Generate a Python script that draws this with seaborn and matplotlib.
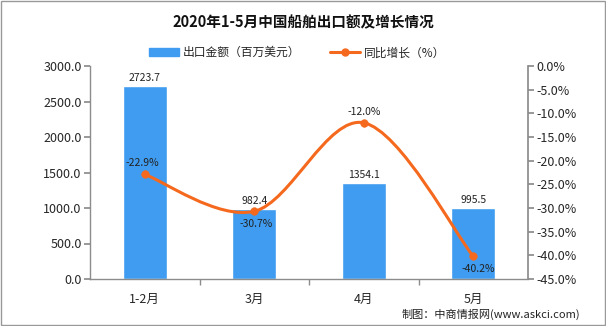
import matplotlib
matplotlib.use("Agg")
import matplotlib.pyplot as plt
import seaborn as sns
import numpy as np
import pandas as pd
from matplotlib.path import Path
from matplotlib.patches import PathPatch, Patch, Rectangle
from matplotlib.lines import Line2D

categories = ["1-2月", "3月", "4月", "5月"]
export_values = [2723.7, 982.4, 1354.1, 995.5]
growth_values = [-22.9, -30.7, -12.0, -40.2]
left_ticks = [0, 500, 1000, 1500, 2000, 2500, 3000]
right_ticks = [0, -5, -10, -15, -20, -25, -30, -35, -40, -45]

sns.set_theme(style="white")
plt.rcParams['font.family'] = ['Noto Sans CJK SC', 'DejaVu Sans']

BLUE = "#3F9CF0"
ORANGE = "#F5691E"
GRAY = "#8C8C8C"

fig = plt.figure(figsize=(6.06, 3.26), dpi=100)
ax = fig.add_axes([90/606, 47/326, 438/606, 213/326])

df = pd.DataFrame({"cat": categories, "val": export_values})
sns.barplot(data=df, x="cat", y="val", color=BLUE, width=0.4, ax=ax, saturation=1)
ax.set_ylim(0, 3000)
ax.set_xlim(-0.5, 3.5)
ax.set_yticks(left_ticks)
ax.set_yticklabels([f"{t:.1f}" for t in left_ticks], fontsize=9)
ax.set_xlabel("")
ax.set_ylabel("")
ax.set_xticks(range(4))
ax.set_xticklabels(categories, fontsize=9)
ax.tick_params(axis='x', length=0, pad=10)
ax.tick_params(axis='y', length=4, color=GRAY, direction='out', pad=2, left=True)
ax.set_xticks([0.5, 1.5, 2.5], minor=True)
ax.tick_params(axis='x', which='minor', length=4, color=GRAY, direction='out', bottom=True)
for s in ["top", "right"]:
    ax.spines[s].set_visible(False)
for s in ["left", "bottom"]:
    ax.spines[s].set_color(GRAY)
    ax.spines[s].set_linewidth(1)

for i, v in enumerate(export_values):
    ax.text(i, v + 40, f"{v:.1f}", ha="center", va="bottom", fontsize=7.5, color="#222222")

ax2 = ax.twinx()
ax2.set_ylim(-45, 0)
ax2.set_yticks(right_ticks)
ax2.set_yticklabels([f"{t:.1f}%" for t in right_ticks], fontsize=9)
ax2.tick_params(axis='y', length=4, color=GRAY, direction='out', pad=2, right=True)
for s in ["top", "left", "bottom"]:
    ax2.spines[s].set_visible(False)
ax2.spines["right"].set_color(GRAY)

# smooth curve (Catmull-Rom as cubic Bezier in data coords)
xs = np.arange(len(growth_values), dtype=float)
ys = np.array(growth_values, dtype=float)
px = np.concatenate([[xs[0]], xs, [xs[-1]]])
py = np.concatenate([[ys[0]], ys, [ys[-1]]])
verts = [(xs[0], ys[0])]
codes = [Path.MOVETO]
for k in range(1, len(px) - 2):
    c1 = (px[k] + (px[k+1] - px[k-1]) / 6, py[k] + (py[k+1] - py[k-1]) / 6)
    c2 = (px[k+1] - (px[k+2] - px[k]) / 6, py[k+1] - (py[k+2] - py[k]) / 6)
    verts += [c1, c2, (px[k+1], py[k+1])]
    codes += [Path.CURVE4] * 3
ax2.add_patch(PathPatch(Path(verts, codes), fill=False, edgecolor=ORANGE, lw=2.2, zorder=3))
sns.scatterplot(x=xs, y=ys, color=ORANGE, s=30, ax=ax2, zorder=4, edgecolor=ORANGE, legend=False)

offsets = [(-0.02, 1.3, "bottom"), (0.02, -1.6, "top"), (0.0, 1.3, "bottom"), (0.05, -1.6, "top")]
for i, v in enumerate(growth_values):
    dx, dy, va = offsets[i]
    ax2.text(i + dx, v + dy, f"{v:.1f}%", ha="center", va=va, fontsize=7.5, color="#222222")

fig.text(0.5, 0.932, "2020年1-5月中国船舶出口额及增长情况", ha="center", va="center",
         fontsize=10.5, fontweight="bold", color="#111111")

handles = [Patch(facecolor=BLUE, edgecolor=BLUE),
           Line2D([0], [0], color=ORANGE, lw=2.2, marker="o", markersize=5)]
fig.legend(handles, ["出口金额（百万美元）", "同比增长（%）"], loc="center",
           bbox_to_anchor=(0.49, 0.838), ncol=2, frameon=False, fontsize=8.5,
           handlelength=2.6, handleheight=0.6, columnspacing=2.5, handletextpad=0.3)

fig.text(0.957, 0.035, "制图：中商情报网(www.askci.com)", ha="right", va="center",
         fontsize=8, color="#222222")

fig.patches.append(Rectangle((0.001, 0.002), 0.997, 0.995, transform=fig.transFigure,
                             fill=False, edgecolor="#999999", lw=1))

fig.savefig("out.png", dpi=100)
